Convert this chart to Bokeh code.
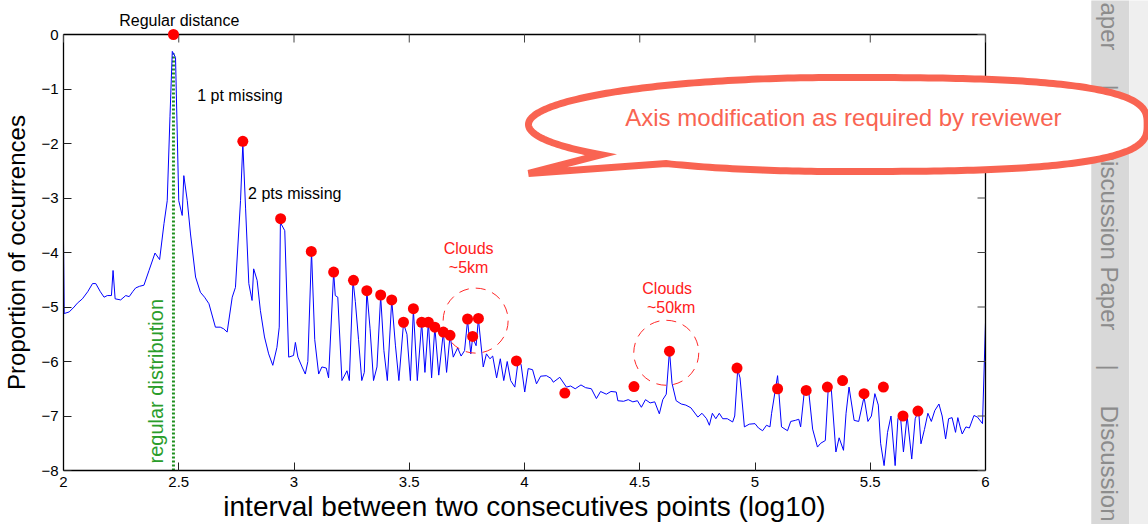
import numpy as np
from bokeh.plotting import figure
from bokeh.models import Range1d, FixedTicker
from bokeh.core.properties import value
from bokeh.embed import file_html
from bokeh.resources import INLINE

# ---------------- data ----------------
interval_log10 = [
    2.000, 2.003, 2.025, 2.046, 2.060, 2.082, 2.105, 2.126, 2.140, 2.160, 2.176, 2.190, 2.208, 2.215, 2.224,
    2.248, 2.270, 2.285, 2.300, 2.313, 2.330, 2.349, 2.371, 2.397, 2.417, 2.436, 2.450, 2.462, 2.472, 2.486,
    2.500, 2.515, 2.522, 2.537, 2.551, 2.573, 2.594, 2.612, 2.631, 2.659, 2.680, 2.695, 2.710, 2.732, 2.746,
    2.768, 2.778, 2.790, 2.804, 2.818, 2.825, 2.840, 2.854, 2.872, 2.890, 2.908, 2.926, 2.936, 2.941, 2.960,
    2.977, 2.998, 3.006, 3.017, 3.035, 3.049, 3.060, 3.076, 3.090, 3.107, 3.121, 3.140, 3.150, 3.172, 3.179,
    3.190, 3.208, 3.230, 3.240, 3.256, 3.266, 3.280, 3.294, 3.305, 3.316, 3.330, 3.345, 3.360, 3.376, 3.390,
    3.405, 3.424, 3.440, 3.455, 3.475, 3.490, 3.505, 3.518, 3.535, 3.554, 3.568, 3.583, 3.597, 3.611, 3.628,
    3.648, 3.662, 3.677, 3.691, 3.710, 3.725, 3.740, 3.753, 3.767, 3.775, 3.790, 3.800, 3.821, 3.835, 3.850,
    3.862, 3.879, 3.895, 3.910, 3.925, 3.940, 3.958, 3.972, 3.985, 4.001, 4.016, 4.035, 4.052, 4.070, 4.095,
    4.115, 4.125, 4.153, 4.182, 4.200, 4.220, 4.245, 4.265, 4.290, 4.312, 4.330, 4.355, 4.375, 4.398, 4.405,
    4.430, 4.450, 4.470, 4.490, 4.507, 4.525, 4.545, 4.565, 4.585, 4.600, 4.615, 4.629, 4.640, 4.658, 4.680,
    4.700, 4.722, 4.752, 4.770, 4.790, 4.802, 4.815, 4.830, 4.845, 4.860, 4.880, 4.903, 4.912, 4.925, 4.935,
    4.954, 4.975, 5.000, 5.015, 5.033, 5.050, 5.065, 5.072, 5.098, 5.115, 5.141, 5.155, 5.175, 5.190, 5.198,
    5.216, 5.233, 5.250, 5.271, 5.285, 5.305, 5.319, 5.330, 5.351, 5.365, 5.384, 5.395, 5.408, 5.430, 5.450,
    5.473, 5.490, 5.505, 5.520, 5.535, 5.545, 5.560, 5.575, 5.590, 5.608, 5.620, 5.630, 5.644, 5.660, 5.680,
    5.695, 5.710, 5.720, 5.735, 5.750, 5.765, 5.780, 5.798, 5.812, 5.827, 5.840, 5.855, 5.870, 5.880, 5.890,
    5.899, 5.915, 5.930, 5.950, 5.965, 5.987, 6.000,
]
log_proportion = [
    -3.78, -5.12, -5.09, -5.00, -4.93, -4.85, -4.72, -4.57, -4.57, -4.72, -4.82, -4.79, -4.79, -4.33, -4.85,
    -4.87, -4.79, -4.81, -4.72, -4.65, -4.62, -4.60, -4.33, -4.01, -4.13, -3.47, -3.05, -1.50, -0.31, -0.42,
    -3.05, -3.32, -2.59, -3.05, -3.66, -4.45, -4.73, -4.82, -4.94, -5.37, -5.37, -5.40, -5.46, -4.82, -4.64,
    -3.05, -2.00, -3.20, -4.57, -4.88, -4.30, -4.51, -5.06, -5.55, -5.86, -6.07, -5.74, -5.37, -3.45, -3.60,
    -5.92, -5.89, -5.65, -5.92, -6.10, -6.23, -6.00, -3.98, -5.60, -6.23, -6.10, -6.12, -6.30, -4.36, -4.79,
    -4.82, -6.35, -6.17, -6.35, -4.51, -4.90, -5.60, -6.35, -6.20, -4.70, -5.40, -6.35, -6.10, -4.80, -5.80,
    -6.35, -4.87, -5.70, -6.35, -5.30, -5.50, -6.35, -5.05, -6.35, -5.28, -6.20, -5.28, -6.30, -5.37, -6.25,
    -5.46, -6.20, -5.52, -5.92, -5.75, -5.90, -5.80, -5.24, -5.86, -5.56, -5.71, -5.22, -6.10, -5.86, -5.95,
    -5.90, -6.30, -5.95, -6.35, -6.00, -6.35, -6.47, -6.00, -6.05, -6.56, -6.13, -6.15, -6.41, -6.27, -6.26,
    -6.31, -6.38, -6.29, -6.47, -6.45, -6.50, -6.43, -6.48, -6.50, -6.68, -6.55, -6.60, -6.55, -6.56, -6.72,
    -6.73, -6.70, -6.74, -6.72, -6.84, -6.70, -6.76, -6.74, -6.96, -6.70, -6.60, -5.80, -6.40, -6.72, -6.78,
    -6.80, -6.85, -7.02, -6.95, -7.05, -7.17, -6.95, -7.05, -6.95, -7.05, -7.05, -7.11, -7.00, -6.15, -6.30,
    -7.20, -7.15, -7.14, -7.22, -7.27, -7.17, -7.20, -6.95, -6.26, -7.20, -7.27, -7.10, -7.08, -7.06, -7.20,
    -6.47, -6.55, -7.24, -7.57, -7.50, -7.45, -6.41, -6.45, -7.66, -7.40, -7.63, -6.95, -6.47, -7.08, -7.10,
    -6.65, -7.10, -7.00, -6.59, -6.80, -7.50, -7.91, -7.30, -7.00, -7.91, -7.05, -6.95, -7.66, -7.00, -7.79,
    -7.05, -6.90, -7.51, -7.25, -6.95, -7.10, -6.90, -6.78, -7.00, -7.42, -7.05, -7.03, -7.30, -7.03, -7.20,
    -7.33, -7.20, -7.22, -6.99, -7.02, -7.14, -5.28,
]
peak_x = [2.477, 2.778, 2.942, 3.075, 3.172, 3.258, 3.316, 3.376, 3.424, 3.475, 3.518, 3.554, 3.583, 3.611,
          3.648, 3.677, 3.753, 3.775, 3.800, 3.965, 4.175, 4.475, 4.629, 4.922, 5.098, 5.222, 5.314, 5.380,
          5.473, 5.557, 5.642, 5.707]
peak_y = [0.00, -1.96, -3.38, -3.98, -4.36, -4.51, -4.70, -4.78, -4.87, -5.28, -5.03, -5.28, -5.28, -5.37,
          -5.46, -5.52, -5.22, -5.54, -5.21, -5.99, -6.58, -6.46, -5.81, -6.12, -6.50, -6.53, -6.47, -6.35,
          -6.59, -6.47, -7.00, -6.91]
regular_distance_log10 = 2.477
regular_line_top = -0.35
cloud_x = [3.788, 4.615]
cloud_y = [-5.25, -5.84]
cloud_names = ["Clouds", "Clouds"]
cloud_sizes = ["~5km", "~50km"]
x_ticks = [2, 2.5, 3, 3.5, 4, 4.5, 5, 5.5, 6]
x_tick_labels = ["2", "2.5", "3", "3.5", "4", "4.5", "5", "5.5", "6"]
y_ticks = [0, -1, -2, -3, -4, -5, -6, -7, -8]
y_tick_labels = ["0", "\u22121", "\u22122", "\u22123", "\u22124", "\u22125", "\u22126", "\u22127", "\u22128"]

# ---------------- layout ----------------
W, H = 1148, 524
FL, FR, FT, FB = 61, 985, 34, 470
X0, X1, Y0, Y1 = 2.0, 6.0, -8.0, 0.0
FONT = "Liberation Sans"
CORAL = "#f96452"
AXIS_W = 1.3


def dx(px):
    return X0 + (px - FL) * (X1 - X0) / (FR - FL)


def dy(py):
    return Y1 - (py - FT) * (Y1 - Y0) / (FB - FT)


p = figure(width=W, height=H, x_range=Range1d(X0, X1), y_range=Range1d(Y0, Y1),
           output_backend="svg", toolbar_location=None,
           min_border_left=FL, min_border_right=W - FR, min_border_top=FT, min_border_bottom=H - FB,
           background_fill_color="white", border_fill_color="white")
p.outline_line_color = None
p.grid.visible = False

xax = p.xaxis[0]
yax = p.yaxis[0]
xax.ticker = FixedTicker(ticks=x_ticks)
xax.major_label_overrides = dict(zip(x_ticks, x_tick_labels))
yax.ticker = FixedTicker(ticks=y_ticks)
yax.major_label_overrides = dict(zip(y_ticks, y_tick_labels))
for ax in (xax, yax):
    ax.major_tick_in = 8
    ax.major_tick_out = 0
    ax.minor_tick_line_color = None
    ax.axis_line_color = "black"
    ax.axis_line_width = AXIS_W
    ax.major_tick_line_color = "#222222"
    ax.major_label_text_font = FONT
    ax.major_label_text_font_size = "15px"
    ax.major_label_text_color = "black"
    ax.axis_label_text_font = FONT
    ax.axis_label_text_font_style = "normal"
    ax.axis_label_text_color = "black"
xax.major_label_standoff = 6
yax.major_label_standoff = 5
xax.axis_label = "interval between two consecutives points (log10)"
xax.axis_label_text_font_size = "28px"
xax.axis_label_standoff = 1
yax.axis_label = "Proportion of occurrences"
yax.axis_label_text_font_size = "24px"
yax.axis_label_standoff = 8


def overlay(r):
    r.level = "overlay"
    return r


# top and right box edges with inward ticks
overlay(p.segment(x0=[X0, X1], y0=[Y1, Y0], x1=[X1, X1], y1=[Y1, Y1], line_color="black", line_width=AXIS_W))
overlay(p.ray(x=x_ticks, y=[Y1] * len(x_ticks), length=8, length_units="screen", angle=-np.pi / 2,
              line_color="#444444", line_width=1))
overlay(p.ray(x=[X1] * len(y_ticks), y=y_ticks, length=8, length_units="screen", angle=np.pi,
              line_color="#444444", line_width=1))

# regular distribution line
p.segment(x0=[regular_distance_log10], y0=[Y0], x1=[regular_distance_log10], y1=[regular_line_top],
          line_color="#1f8f1f", line_width=3, line_dash="2 2")

# main curve
p.line(interval_log10, log_proportion, line_color="#0000ff", line_width=1)

# peaks
overlay(p.scatter(peak_x, peak_y, marker="circle", size=11, fill_color="#ff0000", line_color=None))

# cloud circles
p.scatter(cloud_x, cloud_y, marker="circle", size=65, fill_color=None, line_color="#ff2a2a",
          line_width=1, line_dash="10 7")


# ---------------- text annotations ----------------
def label(px, py, text, size="16px", color="black", align="left", baseline="alphabetic", angle=0.0):
    overlay(p.text(x=[dx(px)], y=[dy(py)], text=[text], text_font=value(FONT), text_font_size=value(size),
                   text_color=color, text_align=align, text_baseline=baseline, angle=angle))


label(177, 20, "Regular distance", align="center")
label(195, 95, "1 pt missing")
label(246, 193, "2 pts missing")
label(467, 248, cloud_names[0], color="#ff2020", align="center")
label(467, 267, cloud_sizes[0], color="#ff2020", align="center")
label(666, 288, cloud_names[1], color="#ff2020", align="center")
label(670, 307, cloud_sizes[1], color="#ff2020", align="center")
label(154, 463, "regular distribution", size="20px", color="#2a9d2a", baseline="middle",
      angle=np.pi / 2)

# ---------------- right strip (page margin) ----------------
overlay(p.quad(left=[dx(1091)], right=[dx(1129)], top=[dy(0)], bottom=[dy(524)],
               fill_color="#d8d8d8", line_color=None))
overlay(p.quad(left=[dx(1129)], right=[dx(1148)], top=[dy(0)], bottom=[dy(524)],
               fill_color="#efefef", line_color=None))
STRIP_GREY = "#8c8c8c"
SF = "24px"
label(1109, 50, "aper", size=SF, color=STRIP_GREY, align="right", baseline="middle", angle=-np.pi / 2)
label(1109, 87, "|", size=SF, color=STRIP_GREY, align="center", baseline="middle", angle=-np.pi / 2)
label(1109, 330, "Discussion Paper", size=SF, color=STRIP_GREY, align="right", baseline="middle", angle=-np.pi / 2)
label(1109, 367, "|", size=SF, color=STRIP_GREY, align="center", baseline="middle", angle=-np.pi / 2)
label(1109, 405, "Discussion", size=SF, color=STRIP_GREY, align="left", baseline="middle", angle=-np.pi / 2)

# ---------------- speech bubble ----------------
cx, cy, a, b = 837, 124, 310, 47
t = np.radians(np.linspace(140, 483.7, 300))
c, s = np.cos(t), np.sin(t)
n = np.where(c < 0, 2.0, 3.0)
ex = np.sign(c) * np.abs(c) ** (2.0 / n)
ey = np.sign(s) * np.abs(s) ** (2.0 / n)
bub_x = list(cx + a * ex) + [527]
bub_y = list(cy + b * ey) + [173]
overlay(p.patch([dx(v) for v in bub_x], [dy(v) for v in bub_y], fill_color="white", line_color=CORAL,
                line_width=7, line_join="miter"))
label(624, 117, "Axis modification as required by reviewer", size="24px", color=CORAL)

open("out.html", "w").write(file_html(p, INLINE))
